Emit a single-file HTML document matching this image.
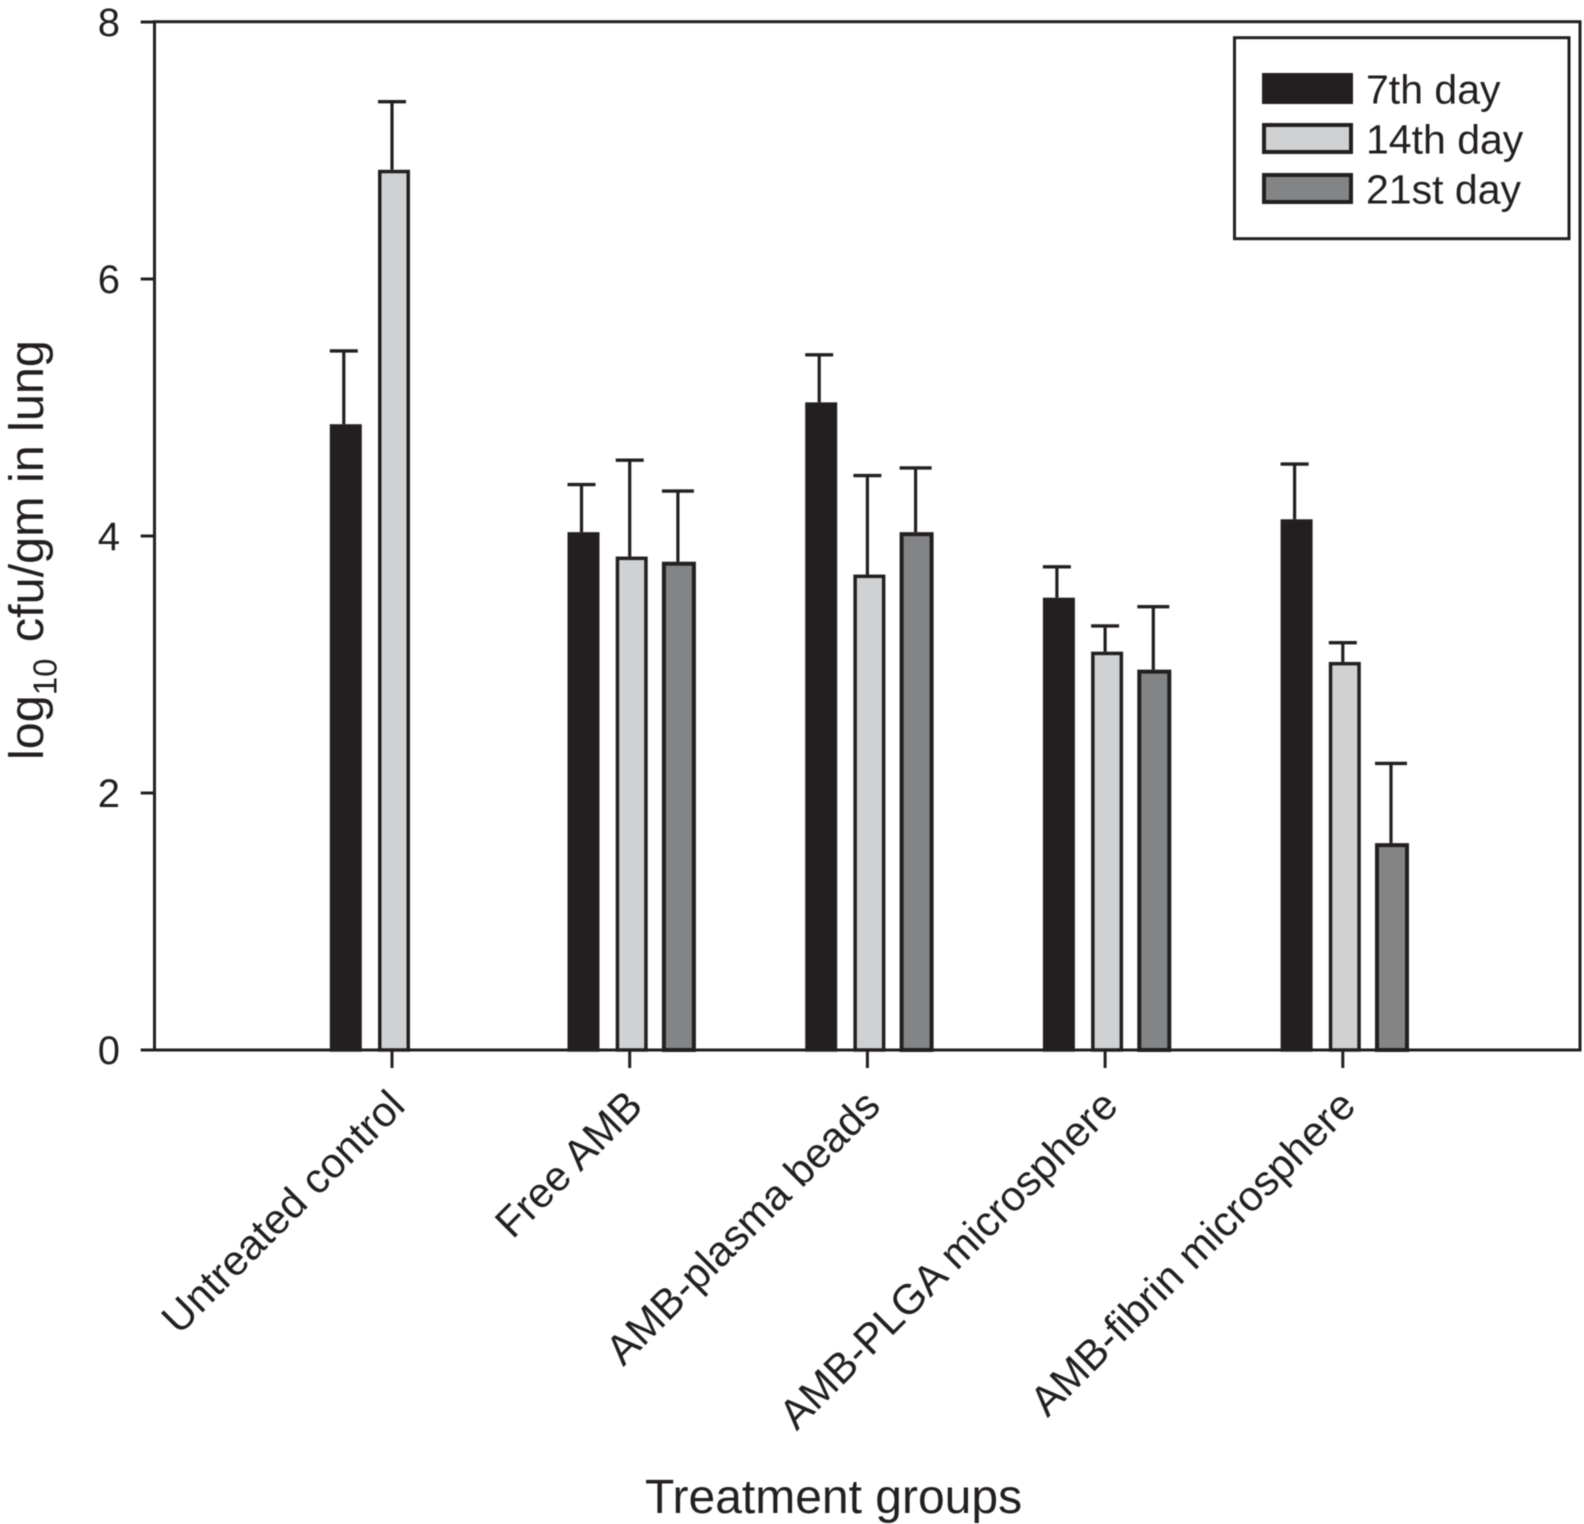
<!DOCTYPE html>
<html>
<head>
<meta charset="utf-8">
<style>
html,body{margin:0;padding:0;background:#fff;}
svg{display:block;filter:blur(0.5px);}
text{font-family:"Liberation Sans",sans-serif;fill:#231f20;}
</style>
</head>
<body>
<svg id="chart" xmlns="http://www.w3.org/2000/svg" width="1584" height="1524" viewBox="0 0 1584 1524"></svg>
<script>
const categories = ["Untreated control", "Free AMB", "AMB-plasma beads", "AMB-PLGA microsphere", "AMB-fibrin microsphere"];
const seriesNames = ["7th day", "14th day", "21st day"];
const day7Values = [4.87, 4.03, 5.04, 3.52, 4.13];
const day14Values = [6.85, 3.84, 3.70, 3.10, 3.02];
const day21Values = [null, 3.80, 4.03, 2.96, 1.61];
const day7ErrorTops = [5.44, 4.40, 5.41, 3.76, 4.56];
const day14ErrorTops = [7.38, 4.59, 4.47, 3.30, 3.17];
const day21ErrorTops = [null, 4.35, 4.53, 3.45, 2.23];
const yTickLabels = [0, 2, 4, 6, 8];

const svg = document.getElementById('chart');
const NS = 'http://www.w3.org/2000/svg';
const plot = {left: 154.5, right: 1580, top: 21.7, bottom: 1050};
const yMax = 8;
const ink = '#231f20';
const fills = ['#231f20', '#cfd1d3', '#828486'];
const seriesValues = [day7Values, day14Values, day21Values];
const seriesTops = [day7ErrorTops, day14ErrorTops, day21ErrorTops];

function yScale(v) { return plot.bottom - (v / yMax) * 1028; }
function xScale(i) { return 392 + i * 237.7; }
function errX(i, s) { return xScale(i) + (s - 1) * 48.2; }
function barX(i, s) { return errX(i, s) + (s === 2 ? 1 : 2); }

function make(tag, attrs, text) {
  const el = document.createElementNS(NS, tag);
  for (const k in attrs) el.setAttribute(k, attrs[k]);
  if (text !== undefined) el.textContent = text;
  svg.appendChild(el);
  return el;
}

seriesValues.forEach(function (vals, s) {
  const stroke = s === 2 ? 4 : 3.5;
  const inner = s === 2 ? 30 : 28.5;
  const capHalf = s === 2 ? 16 : 14;
  vals.forEach(function (v, i) {
    if (v === null) return;
    const ex = errX(i, s);
    const top = seriesTops[s][i];
    const errLine = make('line', {x1: ex, x2: ex, y1: yScale(v), y2: yScale(top), stroke: ink, 'stroke-width': 3.2});
    
    
    const errCap = make('line', {x1: ex - capHalf, x2: ex + capHalf, y1: yScale(top), y2: yScale(top), stroke: ink, 'stroke-width': 3.4});
    
    
    const bar = make('rect', {x: barX(i, s) - inner / 2, y: yScale(v) + stroke / 2, width: inner, height: plot.bottom - yScale(v) - stroke / 2, fill: fills[s], stroke: ink, 'stroke-width': stroke});
    
    
  });
});

const frame = make('rect', {x: plot.left, y: plot.top, width: plot.right - plot.left, height: plot.bottom - plot.top, fill: 'none', stroke: ink, 'stroke-width': 3});



yTickLabels.forEach(function (t) {
  const y = yScale(t);
  const tick = make('line', {x1: 140.7, x2: plot.left, y1: y, y2: y, stroke: ink, 'stroke-width': 3});
  
  
  const label = make('text', {x: 120, y: y + 14, 'text-anchor': 'end', 'font-size': 40}, String(t));
  
  
});

categories.forEach(function (c, i) {
  const x = xScale(i);
  const tick = make('line', {x1: x, x2: x, y1: plot.bottom, y2: 1068, stroke: ink, 'stroke-width': 3});
  
  
  const lx = x + 15;
  const ly = 1108;
  const label = make('text', {x: lx, y: ly, 'text-anchor': 'end', 'font-size': 42, transform: 'rotate(-45 ' + lx + ' ' + ly + ')'}, c);
  
  
});

const yTitle = make('text', {x: 0, y: 0, 'text-anchor': 'start', 'font-size': 48.5, transform: 'translate(43 760) rotate(-90)'});


const t1 = document.createElementNS(NS, 'tspan');
t1.textContent = 'log';
yTitle.appendChild(t1);
const t2 = document.createElementNS(NS, 'tspan');
t2.textContent = '10';
t2.setAttribute('font-size', '33');
t2.setAttribute('dy', '13.5');
yTitle.appendChild(t2);
const t3 = document.createElementNS(NS, 'tspan');
t3.textContent = ' cfu/gm in lung';
t3.setAttribute('dy', '-13.5');
t3.setAttribute('dx', '3');
yTitle.appendChild(t3);

const xTitle = make('text', {x: 645, y: 1513, 'text-anchor': 'start', 'font-size': 48}, 'Treatment groups');



const legendBox = make('rect', {x: 1234.5, y: 37.7, width: 334.5, height: 201, fill: '#fff', stroke: ink, 'stroke-width': 3});



seriesNames.forEach(function (n, s) {
  const y = 73 + s * 50;
  const swatch = make('rect', {x: 1264, y: y + 2, width: 87, height: 27, fill: fills[s], stroke: ink, 'stroke-width': 4});
  
  
  const label = make('text', {x: 1366, y: y + 30.5, 'font-size': 41}, n);
  
  
});
</script>
</body>
</html>
